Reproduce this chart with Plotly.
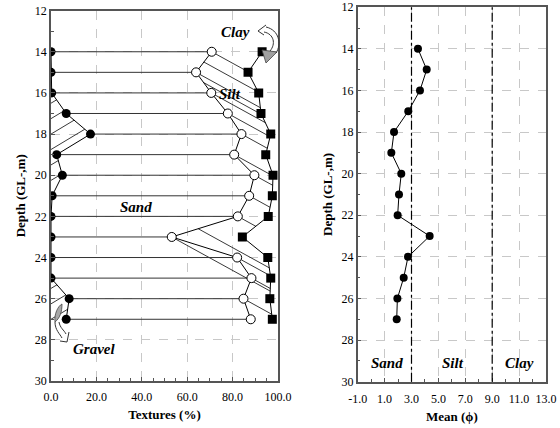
import numpy as np
import plotly.graph_objects as go

# ---------------- data ----------------
depth = [14, 15, 16, 17, 18, 19, 20, 21, 22, 23, 24, 25, 26, 27]
gravel = [0.0, 0.0, 0.3, 6.7, 17.4, 2.5, 5.0, 0.5, 0.0, 0.0, 0.0, 0.0, 8.0, 6.7]          # gravel %
gravel_sand = [70.8, 63.9, 70.6, 77.9, 83.9, 80.7, 89.6, 87.3, 82.3, 53.2, 82.0, 88.3, 84.8, 88.0]  # cumulative
gravel_sand_silt = [93.0, 86.8, 91.5, 92.5, 96.8, 94.6, 97.8, 97.5, 95.7, 84.3, 95.5, 96.8, 96.4, 97.5]
mean_phi = [3.48, 4.13, 3.63, 2.76, 1.70, 1.50, 2.24, 2.07, 1.97, 4.35, 2.74, 2.42, 1.95, 1.90]
phi_bounds = [3.0, 9.0]            # sand/silt and silt/clay limits
tex_ticks = [0, 20, 40, 60, 80, 100]
tex_ticktext = ["0.0", "20.0", "40.0", "60.0", "80.0", "100.0"]
phi_ticks = [-1, 1, 3, 5, 7, 9, 11, 13]
phi_ticktext = ["-1.0", "1.0", "3.0", "5.0", "7.0", "9.0", "11.0", "13.0"]
depth_ticks = [12, 14, 16, 18, 20, 22, 24, 26, 28, 30]

W, H = 560, 428
FONT = "Liberation Serif"
AX = "#555555"
GRID = "#c8c8c8"

# left panel pixel geometry (used for hatch slope only)
PX_PER_PCT = (278 - 51) / 100.0
PX_PER_M = (381 - 10.6) / 18.0


def px(x):
    return x / W


def py(y):
    return 1 - y / H


def P(x, y):
    return f"{px(x):.5f},{py(y):.5f}"


d_arr = np.array(depth, float)
g_arr = np.array(gravel, float)
s_arr = np.array(gravel_sand, float)
q_arr = np.array(gravel_sand_silt, float)


def curve(y, arr):
    return float(np.interp(y, d_arr, arr))


# ---- hatch lines computed from the curves ----
hatch_x, hatch_y = [], []
# silt band: from the open-circle curve, going down-right until the square curve
k_silt = 0.55 * PX_PER_PCT / PX_PER_M
for y0 in list(np.arange(14.0, 27.0, 1.0)) + [22.6, 14.5, 15.5]:
    x0 = curve(y0, s_arr)
    t = 0.0
    while t < 60:
        t += 0.1
        y = y0 + k_silt * t
        if y > depth[-1]:
            break
        if x0 + t >= curve(y, q_arr):
            break
    if t > 1.0 and y0 + k_silt * t <= depth[-1]:
        hatch_x += [x0, x0 + t, None]
        hatch_y += [y0, y0 + k_silt * t, None]
# gravel band: from the axis, going up-right until the gravel curve
k_grav = 0.6 * PX_PER_PCT / PX_PER_M
for y0 in np.arange(16.5, 27.6, 0.75):
    t = 0.0
    while t < 30:
        t += 0.05
        y = y0 - k_grav * t
        if y < depth[0] or t >= curve(y, g_arr):
            break
    if t > 0.8:
        hatch_x += [0.0, t, None]
        hatch_y += [y0, y0 - k_grav * t, None]

fig = go.Figure()

fig.add_trace(go.Scatter(x=hatch_x, y=hatch_y, mode="lines", line=dict(color="#222", width=0.9),
                         xaxis="x", yaxis="y", showlegend=False, hoverinfo="skip"))

# ---- horizontal sand lines ----
hx, hy = [], []
for d, g, s in zip(depth, gravel, gravel_sand):
    hx += [g, s, None]
    hy += [d, d, None]
fig.add_trace(go.Scatter(x=hx, y=hy, mode="lines", line=dict(color="#333", width=1),
                         xaxis="x", yaxis="y", showlegend=False, hoverinfo="skip"))

# ---- curves with markers ----
fig.add_trace(go.Scatter(x=gravel, y=depth, mode="lines+markers",
                         line=dict(color="black", width=1),
                         marker=dict(symbol="circle", size=9, color="black"),
                         xaxis="x", yaxis="y", showlegend=False))
fig.add_trace(go.Scatter(x=gravel_sand, y=depth, mode="lines+markers",
                         line=dict(color="black", width=1),
                         marker=dict(symbol="circle", size=9, color="white",
                                     line=dict(color="black", width=1)),
                         xaxis="x", yaxis="y", showlegend=False))
fig.add_trace(go.Scatter(x=gravel_sand_silt, y=depth, mode="lines+markers",
                         line=dict(color="black", width=1),
                         marker=dict(symbol="square", size=9, color="black"),
                         xaxis="x", yaxis="y", showlegend=False))

# ---- right panel ----
fig.add_trace(go.Scatter(x=mean_phi, y=depth, mode="lines+markers",
                         line=dict(color="black", width=1),
                         marker=dict(symbol="circle", size=8, color="black"),
                         xaxis="x2", yaxis="y2", showlegend=False))

tickfont = dict(family=FONT, size=12, color="black")
titlefont = dict(family=FONT, size=13, color="black")

common = dict(showline=True, linecolor=AX, linewidth=1.5, mirror=True,
              ticks="inside", ticklen=4, tickcolor=AX, automargin=False,
              showgrid=True, gridcolor=GRID, griddash="dash", gridwidth=1,
              zeroline=False, tickfont=tickfont)

shapes = []
for b in phi_bounds:
    shapes.append(dict(type="line", xref="x2", yref="y2 domain", x0=b, x1=b, y0=0, y1=1,
                       line=dict(color="black", width=1.2, dash="dashdot")))

# Clay curved arrow (decoration)
shapes.append(dict(type="path", xref="paper", yref="paper",
                   path=f"M {P(262,50)} L {P(277,52)} L {P(266,63)} Z",
                   fillcolor="#a0a0a0", line=dict(color="#444", width=0.8)))
shapes.append(dict(type="path", xref="paper", yref="paper",
                   path=f"M {P(270,51)} C {P(276,44)} {P(274,34)} {P(264,32)}",
                   line=dict(color="#333", width=1)))
shapes.append(dict(type="path", xref="paper", yref="paper",
                   path=f"M {P(276,53)} C {P(282,44)} {P(279,30)} {P(266,27)}",
                   line=dict(color="#333", width=1)))
shapes.append(dict(type="path", xref="paper", yref="paper",
                   path=f"M {P(266,25)} L {P(258,31)} L {P(264,35)}",
                   line=dict(color="#333", width=1)))
# Gravel curved arrow (decoration)
shapes.append(dict(type="path", xref="paper", yref="paper",
                   path=f"M {P(55,322)} C {P(54,314)} {P(58,306)} {P(62,304)} C {P(62,312)} {P(60,318)} {P(55,322)} Z",
                   fillcolor="#a8a8a8", line=dict(color="#444", width=0.8)))
shapes.append(dict(type="path", xref="paper", yref="paper",
                   path=f"M {P(55,322)} C {P(55,330)} {P(60,334)} {P(62,338)}",
                   line=dict(color="#333", width=1)))
shapes.append(dict(type="path", xref="paper", yref="paper",
                   path=f"M {P(59,322)} C {P(60,328)} {P(64,330)} {P(66,334)}",
                   line=dict(color="#333", width=1)))
shapes.append(dict(type="path", xref="paper", yref="paper",
                   path=f"M {P(60,341)} L {P(67,342)} L {P(69,332)}",
                   line=dict(color="#333", width=1)))

ann_font = dict(family=FONT, size=15, color="black")


def label(text, x, y):
    return dict(text=f"<b><i>{text}</i></b>", xref="paper", yref="paper",
                x=px(x), y=py(y), showarrow=False, font=ann_font,
                xanchor="center", yanchor="middle")


annotations = [
    label("Clay", 235, 32), label("Silt", 230, 94), label("Sand", 136, 207),
    label("Gravel", 94, 349),
    label("Sand", 387, 363), label("Silt", 453, 363), label("Clay", 519, 363),
]

fig.update_layout(
    width=W, height=H, margin=dict(l=0, r=0, t=0, b=0),
    paper_bgcolor="white", plot_bgcolor="white",
    font=dict(family=FONT, color="black"),
    showlegend=False,
    xaxis=dict(domain=[px(51), px(278)], range=[0, 100], tickvals=tex_ticks,
               ticktext=tex_ticktext, anchor="y", ticklabelstandoff=4,
               minor=dict(dtick=5, ticks="inside", ticklen=3, tickcolor=AX, showgrid=False),
               title=dict(text="<b>Textures (%)</b>", font=titlefont, standoff=7),
               **common),
    yaxis=dict(domain=[py(381), py(10.6)], range=[30, 12], tickvals=depth_ticks,
               anchor="x",
               minor=dict(dtick=1, ticks="inside", ticklen=3, tickcolor=AX, showgrid=False),
               title=dict(text="<b>Depth (GL-,m)</b>", font=titlefont, standoff=6),
               **common),
    xaxis2=dict(domain=[px(357.7), px(546)], range=[-1, 13], tickvals=phi_ticks,
                ticktext=phi_ticktext, anchor="y2", ticklabelstandoff=5,
                minor=dict(dtick=1, ticks="inside", ticklen=3, tickcolor=AX, showgrid=False),
                title=dict(text="<b>Mean (ϕ)</b>", font=titlefont, standoff=7),
                **common),
    yaxis2=dict(domain=[py(381.7), py(7.2)], range=[30, 12], tickvals=depth_ticks,
                anchor="x2",
                minor=dict(dtick=1, ticks="inside", ticklen=3, tickcolor=AX, showgrid=False),
                title=dict(text="<b>Depth (GL-,m)</b>", font=titlefont, standoff=6),
                **common),
    shapes=shapes,
    annotations=annotations,
)

fig.write_html("out.html", config={"displayModeBar": False},
               post_script="document.body.style.margin='0';document.body.style.padding='0';")
